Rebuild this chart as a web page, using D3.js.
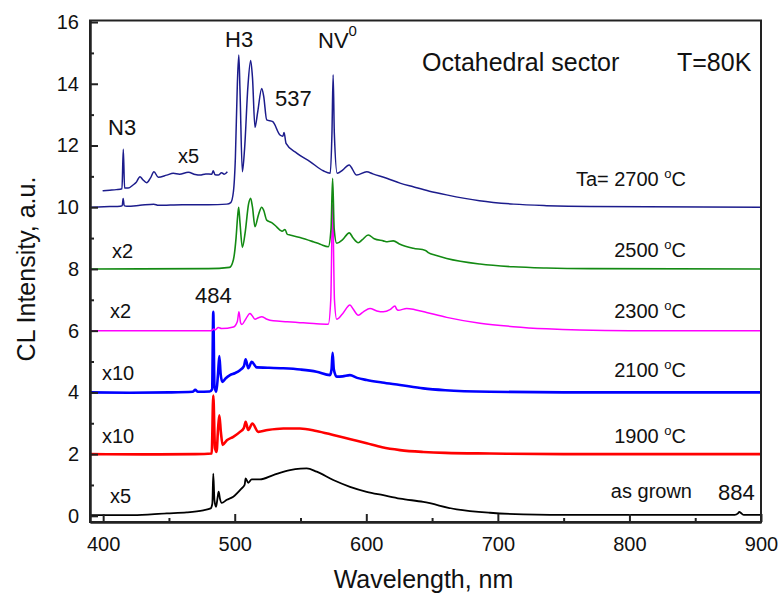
<!DOCTYPE html>
<html>
<head>
<meta charset="utf-8">
<script src="https://cdn.jsdelivr.net/npm/d3@7"></script>
<style>
  body { margin: 0; background: #fff; }
  text { font-family: "Liberation Sans", Arial, sans-serif; fill: #111; }
  .axis text { font-size: 20px; }
  .axis path, .axis line { stroke: #222; stroke-width: 2px; }
</style>
</head>
<body>
<div id="chart"></div>
<script>
// spectra: [wavelength nm, intensity a.u.]
var spec2700 = [[390,10.0],[405,10.02],[413,10.03],[414.5,10.05],[415.2,10.28],[416,10.05],[418,10.03],[428,10.06],[438.5,10.1],[442,10.06],[460,10.08],[480,10.08],[494,10.1],[497,10.15],[499,10.5],[500.5,11.6],[502,14.0],[503.1,14.93],[504,13.8],[505.8,11.15],[507.5,11.9],[510,13.9],[512.1,14.75],[513.5,14.2],[515.4,12.59],[517.5,13.1],[520.5,13.85],[522,13.6],[524.3,12.83],[528.9,12.77],[534.4,12.34],[536.6,12.3],[537.5,12.42],[539,12.07],[547.1,11.75],[557.2,11.48],[567.3,11.18],[572.6,11.1],[573.9,12.4],[574.8,14.29],[575.7,12.4],[577.9,11.1],[582,11.2],[586.9,11.37],[592.7,11.04],[600.3,11.15],[605,11.08],[615.5,10.94],[625.6,10.78],[635.7,10.66],[648,10.52],[661,10.4],[686,10.21],[712,10.1],[737,10.05],[770,10.02],[900,10.0]];
var spec2700x5 = [[399.6,10.53],[405,10.55],[410,10.57],[414.3,10.6],[415.3,11.88],[416.3,10.62],[419,10.62],[422.7,10.72],[425,10.8],[428,10.99],[430,10.9],[433.1,10.79],[436,10.95],[438.6,11.15],[441.9,10.97],[448.3,11.04],[453.3,11.1],[458,11.07],[464.7,11.13],[470,11.06],[473.6,11.04],[478,11.08],[482.5,11.07],[483.7,11.18],[485,11.05],[487.5,11.04],[490,11.12],[492,11.07],[494.4,11.15]];
var spec2500 = [[390,8.0],[480,8.01],[496,8.05],[499,8.3],[501,9.0],[502.2,9.7],[503,10.0],[504,9.5],[505.8,8.7],[508,9.2],[510.5,10.1],[512.1,10.29],[513.5,10.0],[515.4,9.37],[518,9.75],[520.5,10.0],[522,9.9],[524.3,9.58],[528.1,9.5],[531,9.4],[534.4,9.26],[536,9.22],[538.2,9.28],[540,9.12],[542,9.1],[549.6,9.02],[559.7,8.88],[565,8.8],[571.1,8.72],[573.2,9.3],[574.4,10.94],[575.6,9.3],[577.5,8.83],[582,8.95],[587.1,9.17],[590,9.0],[593.9,8.85],[597,8.95],[601.5,9.1],[606,8.98],[612.9,8.91],[616,8.88],[620.5,8.91],[625.6,8.8],[635.7,8.67],[645,8.6],[647.5,8.52],[652,8.45],[661.1,8.34],[686.4,8.16],[711.7,8.07],[737,8.03],[770,8.01],[900,8.0]];
var spec2300 = [[390,6.0],[482,6.0],[484.2,6.05],[485,6.02],[487.5,6.1],[490,6.07],[499,6.12],[502,6.3],[503.2,6.61],[504.5,6.25],[505.5,6.2],[508,6.35],[511.6,6.56],[513,6.5],[515.4,6.37],[518,6.42],[520.5,6.45],[524,6.38],[529.3,6.32],[540,6.29],[549.6,6.26],[560,6.23],[571.1,6.21],[573,7.0],[574.4,10.1],[575.8,7.0],[577.5,6.37],[582,6.55],[587.6,6.83],[590,6.7],[593.9,6.5],[598,6.62],[602.8,6.72],[608,6.64],[612.9,6.61],[618,6.68],[621.8,6.8],[623,6.7],[624.3,6.66],[630.7,6.72],[637,6.68],[645.8,6.59],[661.1,6.43],[686.4,6.24],[711.7,6.13],[737,6.06],[762.4,6.02],[800,6.0],[900,6.0]];
var spec2100 = [[390,4.0],[420,3.99],[450,4.0],[468,4.02],[470,4.08],[472,4.02],[481,4.03],[482.8,4.1],[483.7,6.61],[484.6,4.2],[486,4.02],[487.3,4.6],[488.3,5.18],[489.3,4.6],[490.6,4.34],[493,4.45],[496.4,4.56],[500,4.62],[504,4.72],[507,4.85],[508.3,5.07],[510.3,4.78],[512.9,4.99],[516.7,4.81],[525,4.8],[536.9,4.78],[550,4.74],[562.2,4.67],[572.4,4.56],[573.6,4.75],[574.4,5.28],[575.3,4.75],[577.5,4.51],[582,4.52],[587.6,4.56],[593,4.47],[600.3,4.4],[612,4.32],[625.6,4.24],[643.3,4.13],[660,4.07],[694,4.02],[750,4.0],[900,4.0]];
var spec1900 = [[390,2.0],[430,1.99],[470,2.0],[482.5,2.02],[483.7,3.9],[485,2.2],[486.2,2.07],[487.3,2.8],[488.3,3.26],[489.5,2.7],[490.8,2.3],[494,2.45],[498.9,2.56],[504,2.72],[507,2.85],[508.3,3.05],[510.3,2.78],[513.4,2.99],[517.9,2.72],[525,2.78],[536.9,2.83],[549.6,2.83],[562,2.75],[574.9,2.62],[588,2.48],[600.3,2.35],[612,2.22],[625.6,2.13],[643.3,2.07],[660,2.04],[694,2.02],[750,2.0],[900,2.0]];
var specAsGrown = [[390,0.02],[422.7,0.02],[448.3,0.08],[463.5,0.11],[476.1,0.18],[481.7,0.24],[483,0.4],[483.7,1.37],[484.6,0.5],[485.8,0.29],[487,0.6],[487.8,0.78],[488.8,0.55],[490.1,0.42],[494,0.52],[498.9,0.62],[505.3,0.89],[507.5,1.0],[508.3,1.21],[510.3,1.07],[512.9,1.18],[519.2,1.18],[529.3,1.32],[542,1.48],[550,1.53],[554.7,1.54],[562.3,1.43],[574.9,1.16],[587.6,0.94],[600.3,0.78],[612.9,0.67],[625.6,0.56],[643.3,0.45],[668.7,0.21],[694,0.1],[719.3,0.05],[760,0.03],[880,0.03],[882.5,0.08],[883.5,0.13],[885,0.08],[887,0.03],[900,0.03]];

var xTicks = [400, 500, 600, 700, 800, 900];
var xMinor = [450, 550, 650, 750, 850];
var yTicks = [0, 2, 4, 6, 8, 10, 12, 14, 16];
var yMinor = [1, 3, 5, 7, 9, 11, 13, 15];

// series: data, colour, stroke width
var series = [
  { data: spec2700, color: "#1c1c8c", width: 1.5 },
  { data: spec2700x5, color: "#1c1c8c", width: 1.5 },
  { data: spec2500, color: "#138a13", width: 1.6 },
  { data: spec2300, color: "#ff00ff", width: 1.5 },
  { data: spec2100, color: "#0000ff", width: 2.6 },
  { data: spec1900, color: "#ff0000", width: 2.6 },
  { data: specAsGrown, color: "#000000", width: 1.8 }
];
var tempLabels = [["Ta= 2700 ", 186], ["2500 ", 256.7], ["2300 ", 318.3], ["2100 ", 376.7], ["1900 ", 443.3]];
var mulLabels = [["x5", 178, 162.7], ["x2", 112, 258.3], ["x2", 110, 318.3], ["x10", 102, 380], ["x10", 102, 443.3], ["x5", 110, 503.3]];
var peakLabels = [["N3", 108, 135], ["H3", 225, 47], ["537", 275, 106], ["484", 195, 303.3], ["884", 718, 500]];

var svgWidth = 778, svgHeight = 594;
var plotLeft = 90, plotRight = 761, plotTop = 20.5, plotBottom = 522;

var svg = d3.select("#chart").append("svg")
  .attr("width", svgWidth)
  .attr("height", svgHeight);

var x = d3.scaleLinear().domain([390, 900]).range([plotLeft, plotRight]);
var y = d3.scaleLinear().domain([-0.2, 16.05]).range([plotBottom, plotTop]);

svg.append("clipPath").attr("id", "clip")
  .append("rect").attr("x", plotLeft).attr("y", plotTop)
  .attr("width", plotRight - plotLeft).attr("height", plotBottom - plotTop);

var line = d3.line()
  .x(d => x(d[0]))
  .y(d => y(d[1]))
  .curve(d3.curveMonotoneX);

var plot = svg.append("g").attr("clip-path", "url(#clip)");
// draw bottom traces first so the upper ones sit on top
series.slice().reverse().forEach(function(s) {
  plot.append("path")
    .attr("d", line(s.data))
    .attr("fill", "none")
    .attr("stroke", s.color)
    .attr("stroke-width", s.width)
    .attr("stroke-linejoin", "round");
});

// axes, ticks pointing inward
svg.append("g").attr("class", "axis")
  .attr("transform", `translate(0,${plotBottom})`)
  .call(d3.axisBottom(x).tickValues(xTicks).tickSizeInner(-8).tickSizeOuter(0).tickPadding(15));
svg.append("g").attr("class", "axis")
  .attr("transform", `translate(0,${plotBottom})`)
  .call(d3.axisBottom(x).tickValues(xMinor).tickFormat("").tickSizeInner(-4).tickSizeOuter(0));
svg.append("g").attr("class", "axis")
  .attr("transform", `translate(${plotLeft},0)`)
  .call(d3.axisLeft(y).tickValues(yTicks).tickSizeInner(-8).tickSizeOuter(0).tickPadding(11));
svg.append("g").attr("class", "axis")
  .attr("transform", `translate(${plotLeft},0)`)
  .call(d3.axisLeft(y).tickValues(yMinor).tickFormat("").tickSizeInner(-4).tickSizeOuter(0));

svg.append("rect")
  .attr("x", plotLeft).attr("y", plotTop)
  .attr("width", plotRight - plotLeft).attr("height", plotBottom - plotTop)
  .attr("fill", "none").attr("stroke", "#222").attr("stroke-width", 2);

// axis titles
svg.append("text")
  .attr("x", (plotLeft + plotRight) / 2 - 2).attr("y", 588)
  .attr("text-anchor", "middle").style("font-size", "25px")
  .text("Wavelength, nm");
svg.append("text")
  .attr("transform", "translate(35,269) rotate(-90)")
  .attr("text-anchor", "middle").style("font-size", "25px")
  .text("CL Intensity, a.u.");

// header texts
svg.append("text").attr("x", 422).attr("y", 71).style("font-size", "25px").text("Octahedral sector");
svg.append("text").attr("x", 677).attr("y", 71).style("font-size", "25px").text("T=80K");

// peak names
peakLabels.forEach(function(p) {
  svg.append("text").attr("x", p[1]).attr("y", p[2]).style("font-size", "22px").text(p[0]);
});
var nv = svg.append("text").attr("x", 318).attr("y", 47.7).style("font-size", "22px");
nv.append("tspan").text("NV");
nv.append("tspan").attr("dy", -12).style("font-size", "15px").text("0");

// multipliers
mulLabels.forEach(function(m) {
  svg.append("text").attr("x", m[1]).attr("y", m[2]).style("font-size", "20px").text(m[0]);
});

// annealing temperatures
tempLabels.forEach(function(t) {
  var tx = svg.append("text").attr("x", 686).attr("y", t[1])
    .attr("text-anchor", "end").style("font-size", "20px");
  tx.append("tspan").text(t[0]);
  tx.append("tspan").attr("dy", -8).style("font-size", "13px").text("o");
  tx.append("tspan").attr("dy", 8).text("C");
});
svg.append("text").attr("x", 692).attr("y", 498.3)
  .attr("text-anchor", "end").style("font-size", "20px").text("as grown");
</script>
</body>
</html>
